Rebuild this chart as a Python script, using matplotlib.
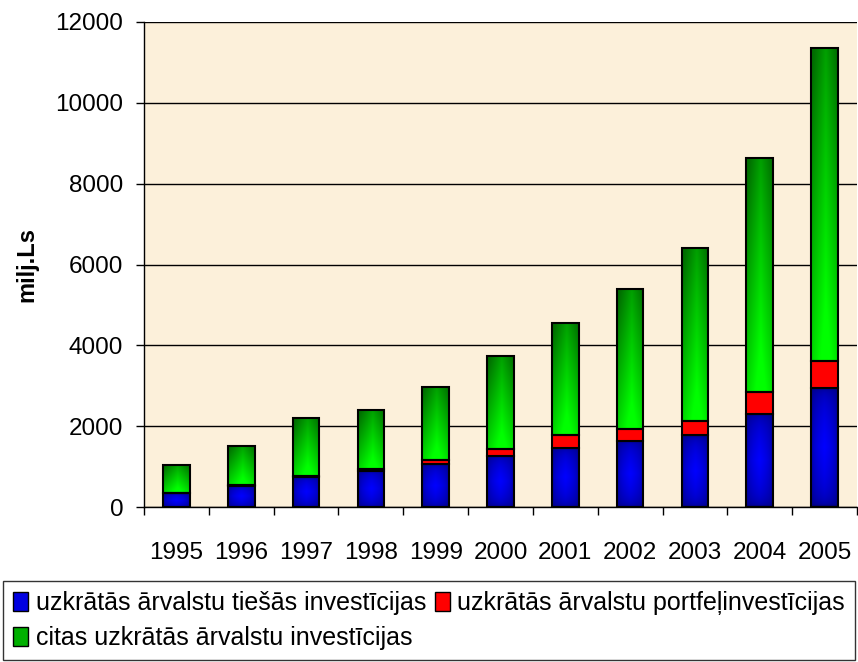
import numpy as np
import matplotlib
matplotlib.use("Agg")
import matplotlib.pyplot as plt
from matplotlib.patches import Patch

years = ["1995", "1996", "1997", "1998", "1999", "2000",
         "2001", "2002", "2003", "2004", "2005"]
tiesas = [340, 520, 750, 895, 1055, 1265, 1470, 1635, 1770, 2310, 2950]
portfelis = [15, 25, 15, 35, 105, 165, 300, 300, 370, 535, 670]
citas = [695, 968, 1425, 1465, 1820, 2306, 2780, 3447, 4262, 5779, 7730]

labels = ["uzkrātās ārvalstu tiešās investīcijas",
          "uzkrātās ārvalstu portfeļinvestīcijas",
          "citas uzkrātās ārvalstu investīcijas"]

plt.rcParams['font.family'] = ['Liberation Sans', 'DejaVu Sans']

fig = plt.figure(figsize=(8.58, 6.62), dpi=100)
ax = fig.add_axes([144 / 858, 1 - 507 / 662, 713 / 858, 485 / 662])
ax.set_facecolor("#fcf0da")

x = np.arange(len(years))
w = 0.41


def blue_grad(n=64):
    u = np.linspace(0, 1, n)
    s = 1 - np.abs(2 * u - 1)
    f = np.sqrt(np.outer(s, s)) ** 0.6
    dark = np.array([0.0, 0.0, 0.45])
    bright = np.array([0.0, 0.0, 1.0])
    return dark + (bright - dark) * f[..., None]


def green_grad(n=64):
    u = np.linspace(0, 1, n)
    uu, vv = np.meshgrid(u, u)  # vv: 0 at top row
    f = np.clip(0.8 * vv + 0.4 * (1 - np.abs(2 * uu - 1.1)) - 0.05, 0, 1)
    dark = np.array([0.0, 0.43, 0.0])
    bright = np.array([0.0, 1.0, 0.0])
    return dark + (bright - dark) * f[..., None]


def fill_grad(bars, img):
    for b in bars:
        x0, y0 = b.get_x(), b.get_y()
        im = ax.imshow(img, extent=[x0, x0 + b.get_width(), y0, y0 + b.get_height()],
                       origin="upper", aspect="auto", zorder=2, interpolation="bilinear")
        im.set_clip_path(b)


bottom2 = np.array(tiesas)
bottom3 = bottom2 + np.array(portfelis)

b1 = ax.bar(x, tiesas, w, color="#0000ff", edgecolor="black", linewidth=1.5, zorder=3)
b2 = ax.bar(x, portfelis, w, bottom=bottom2, color="#ff0000", edgecolor="black",
            linewidth=1.5, zorder=3)
b3 = ax.bar(x, citas, w, bottom=bottom3, color="#00c000", edgecolor="black",
            linewidth=1.5, zorder=3)
for b in list(b1) + list(b3):
    b.set_facecolor("none")
fill_grad(b1, blue_grad())
fill_grad(b3, green_grad())

ax.set_xlim(-0.5, len(years) - 0.5)
ax.set_ylim(0, 12000)
ax.set_yticks(np.arange(0, 12001, 2000))
ax.yaxis.grid(True, color="black", linewidth=1.0, zorder=1)
ax.set_axisbelow(True)

ax.set_xticks(x)
ax.set_xticklabels(years)
ax.set_xticks(np.arange(-0.5, len(years), 1), minor=True)
ax.tick_params(axis="x", which="major", length=0, pad=25, labelsize=17.5)
ax.tick_params(axis="x", which="minor", length=6, width=1, direction="out")
ax.tick_params(axis="y", length=6, width=1, pad=9, labelsize=17.5)

for side in ["top", "right"]:
    ax.spines[side].set_visible(False)
ax.spines["left"].set_linewidth(1.0)
ax.spines["bottom"].set_linewidth(1.0)

ax.set_ylabel("milj.Ls", fontsize=17, fontweight="bold", labelpad=12)

handles = [Patch(facecolor="#0000e0", edgecolor="black"),
           Patch(facecolor="#ff0000", edgecolor="black"),
           Patch(facecolor="#00b000", edgecolor="black")]
order = [0, 2, 1]
leg = fig.legend([handles[i] for i in order], [labels[i] for i in order],
                 loc="lower left", bbox_to_anchor=(3 / 858, 2 / 662), ncol=2,
                 fontsize=18, frameon=True, fancybox=False, edgecolor="black",
                 handlelength=0.6, handleheight=0.8, handletextpad=0.3,
                 columnspacing=0.35, labelspacing=0.45, borderpad=0.4,
                 borderaxespad=0)
leg.get_frame().set_linewidth(1.0)

fig.savefig("out.png", dpi=100)
